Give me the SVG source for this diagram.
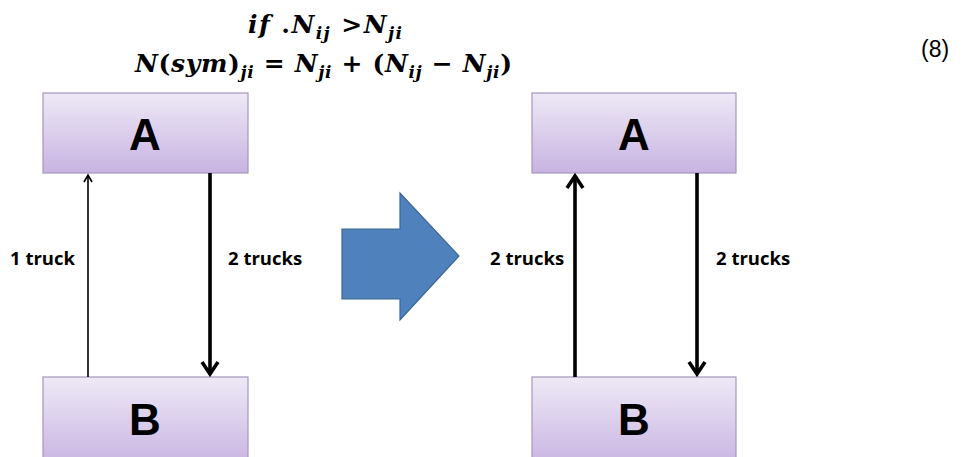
<svg xmlns="http://www.w3.org/2000/svg" width="963" height="457" viewBox="0 0 963 457">
<defs>
<linearGradient id="boxg" x1="0" y1="0" x2="0" y2="1">
<stop offset="0" stop-color="#eee9f6"/>
<stop offset="1" stop-color="#c8b3e2"/>
</linearGradient>
<style>
.box{fill:url(#boxg);stroke:#a596bd;stroke-width:1.2}
.big{font-family:"Liberation Sans",Arial,sans-serif;font-weight:bold;font-size:44px;fill:#000;text-anchor:middle}
.lbl{font-family:"Open Sans","Liberation Sans",sans-serif;font-weight:bold;font-size:18.5px;fill:#000}
.eq{font-family:"DejaVu Serif","Liberation Serif",serif;font-weight:bold;font-style:italic;font-size:25px;fill:#000}
.eqr{font-family:"DejaVu Serif","Liberation Serif",serif;font-weight:bold;font-style:normal;font-size:25px;fill:#000}
.sub{font-size:17px}
.ln{stroke:#000;fill:none;stroke-linecap:butt}
.thin{stroke-width:1.6}
.thick{stroke-width:3.6}
</style>
</defs>
<rect width="963" height="457" fill="#fff"/>
<g id="equation">
<text class="eq" x="248" y="33" textLength="154" lengthAdjust="spacing">if<tspan class="eqr"> .</tspan>N<tspan class="sub" dy="6">ij</tspan><tspan class="eqr" dy="-6"> &gt;</tspan>N<tspan class="sub" dy="6">ji</tspan></text>
<text class="eq" x="135" y="72" textLength="377" lengthAdjust="spacing">N<tspan class="eqr">(</tspan>sym<tspan class="eqr">)</tspan><tspan class="sub" dy="6">ji</tspan><tspan class="eqr" dy="-6"> = </tspan>N<tspan class="sub" dy="6">ji</tspan><tspan class="eqr" dy="-6"> + (</tspan>N<tspan class="sub" dy="6">ij</tspan><tspan class="eqr" dy="-6"> − </tspan>N<tspan class="sub" dy="6">ji</tspan><tspan class="eqr" dy="-6">)</tspan></text>
<text x="921" y="57" font-family="Liberation Sans,Arial,sans-serif" font-size="23" fill="#000">(8)</text>
</g>
<g id="A1"><rect class="box" x="43" y="93" width="205" height="80"/><text class="big" x="145" y="150">A</text></g>
<g id="B1"><rect class="box" x="43" y="377" width="205" height="90"/><text class="big" x="145" y="435">B</text></g>
<g id="A2"><rect class="box" x="532" y="93" width="204" height="80"/><text class="big" x="634" y="150">A</text></g>
<g id="B2"><rect class="box" x="532" y="377" width="204" height="90"/><text class="big" x="634" y="435">B</text></g>
<g id="bigArrow"><polygon points="342,229 400,229 400,193 459,256 400,320 400,299 342,299" fill="#4f81bd" stroke="#3b6694" stroke-width="1.2"/></g>
<g id="connectors">
<line class="ln thin" x1="88" y1="377" x2="88" y2="175"/>
<polyline class="ln thin" points="84,182 88,175 92,182"/>
<line class="ln thick" x1="210" y1="173" x2="210" y2="374"/>
<polyline class="ln thick" points="202,362 210,374 218,362"/>
<line class="ln thick" x1="575" y1="377" x2="575" y2="176"/>
<polyline class="ln thick" points="567,188 575,176 583,188"/>
<line class="ln thick" x1="697" y1="173" x2="697" y2="374"/>
<polyline class="ln thick" points="689,362 697,374 705,362"/>
</g>
<g id="labels">
<text class="lbl" x="10" y="265">1 truck</text>
<text class="lbl" x="228" y="265">2 trucks</text>
<text class="lbl" x="490" y="265">2 trucks</text>
<text class="lbl" x="716" y="265">2 trucks</text>
</g>
</svg>
